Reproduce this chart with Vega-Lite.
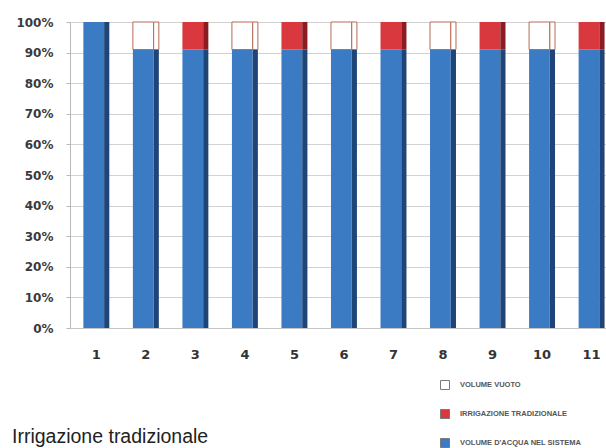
{
  "$schema": "https://vega.github.io/schema/vega-lite/v6.json",
  "width": 536,
  "height": 306,
  "autosize": {"type": "none"},
  "padding": {"left": 70, "top": 22, "right": 0, "bottom": 120},
  "background": "white",
  "config": {"view": {"stroke": null}, "font": "Liberation Sans"},
  "title": {
    "text": "Irrigazione tradizionale",
    "orient": "bottom",
    "anchor": "start",
    "frame": "group",
    "dx": -58,
    "offset": -7,
    "baseline": "alphabetic",
    "font": "Liberation Sans",
    "fontSize": 19.5,
    "fontWeight": "normal",
    "color": "#222222"
  },
  "data": {
    "values": [
      {"periodo": 1, "serie": "VOLUME D'ACQUA NEL SISTEMA", "strato": "base", "percentuale": 100},
      {"periodo": 2, "serie": "VOLUME D'ACQUA NEL SISTEMA", "strato": "base", "percentuale": 91},
      {"periodo": 2, "serie": "VOLUME VUOTO", "strato": "cima", "percentuale": 9},
      {"periodo": 3, "serie": "VOLUME D'ACQUA NEL SISTEMA", "strato": "base", "percentuale": 91},
      {"periodo": 3, "serie": "IRRIGAZIONE TRADIZIONALE", "strato": "cima", "percentuale": 9},
      {"periodo": 4, "serie": "VOLUME D'ACQUA NEL SISTEMA", "strato": "base", "percentuale": 91},
      {"periodo": 4, "serie": "VOLUME VUOTO", "strato": "cima", "percentuale": 9},
      {"periodo": 5, "serie": "VOLUME D'ACQUA NEL SISTEMA", "strato": "base", "percentuale": 91},
      {"periodo": 5, "serie": "IRRIGAZIONE TRADIZIONALE", "strato": "cima", "percentuale": 9},
      {"periodo": 6, "serie": "VOLUME D'ACQUA NEL SISTEMA", "strato": "base", "percentuale": 91},
      {"periodo": 6, "serie": "VOLUME VUOTO", "strato": "cima", "percentuale": 9},
      {"periodo": 7, "serie": "VOLUME D'ACQUA NEL SISTEMA", "strato": "base", "percentuale": 91},
      {"periodo": 7, "serie": "IRRIGAZIONE TRADIZIONALE", "strato": "cima", "percentuale": 9},
      {"periodo": 8, "serie": "VOLUME D'ACQUA NEL SISTEMA", "strato": "base", "percentuale": 91},
      {"periodo": 8, "serie": "VOLUME VUOTO", "strato": "cima", "percentuale": 9},
      {"periodo": 9, "serie": "VOLUME D'ACQUA NEL SISTEMA", "strato": "base", "percentuale": 91},
      {"periodo": 9, "serie": "IRRIGAZIONE TRADIZIONALE", "strato": "cima", "percentuale": 9},
      {"periodo": 10, "serie": "VOLUME D'ACQUA NEL SISTEMA", "strato": "base", "percentuale": 91},
      {"periodo": 10, "serie": "VOLUME VUOTO", "strato": "cima", "percentuale": 9},
      {"periodo": 11, "serie": "VOLUME D'ACQUA NEL SISTEMA", "strato": "base", "percentuale": 91},
      {"periodo": 11, "serie": "IRRIGAZIONE TRADIZIONALE", "strato": "cima", "percentuale": 9}
    ]
  },
  "encoding": {
    "x": {
      "field": "periodo",
      "type": "ordinal",
      "scale": {"paddingInner": 0.477, "paddingOuter": 0.15, "align": 0.9},
      "axis": {
        "title": null,
        "labelAngle": 0,
        "ticks": false,
        "domain": true,
        "domainColor": "#c4c4c4",
        "labelFont": "DejaVu Sans",
        "labelFontWeight": "bold",
        "labelFontSize": 13,
        "labelColor": "#333333",
        "labelPadding": 20
      }
    },
    "y": {
      "field": "percentuale",
      "type": "quantitative",
      "stack": "zero",
      "scale": {"domain": [0, 100], "nice": false},
      "axis": {
        "title": null,
        "values": [0, 10, 20, 30, 40, 50, 60, 70, 80, 90, 100],
        "labelExpr": "datum.value + '%'",
        "grid": true,
        "gridColor": "#d2d2d2",
        "domainColor": "#b8b8b8",
        "tickColor": "#b8b8b8",
        "tickSize": 4,
        "labelFont": "DejaVu Sans",
        "labelFontWeight": "bold",
        "labelFontSize": 12,
        "labelColor": "#3a3a3a",
        "labelPadding": 13
      }
    },
    "order": {"field": "strato"}
  },
  "layer": [
    {
      "mark": {"type": "bar", "width": {"band": 0.8}, "xOffset": -2.6},
      "encoding": {
        "color": {
          "field": "serie",
          "type": "nominal",
          "scale": {
            "domain": ["VOLUME VUOTO", "IRRIGAZIONE TRADIZIONALE", "VOLUME D'ACQUA NEL SISTEMA"],
            "range": ["#ffffff", "#d8383e", "#3b7bc4"]
          },
          "legend": {
            "title": null,
            "orient": "none",
            "legendX": 370,
            "legendY": 358,
            "padding": 0,
            "symbolType": "square",
            "symbolSize": 81,
            "symbolStrokeColor": "#7a7a7a",
            "symbolStrokeWidth": 1,
            "labelFont": "Liberation Sans",
            "labelFontWeight": "bold",
            "labelFontSize": 7.5,
            "labelColor": "#555555",
            "labelOffset": 10,
            "rowPadding": 15
          }
        },
        "stroke": {
          "condition": {"test": "datum.serie === 'VOLUME VUOTO'", "value": "#b56a55"},
          "value": null
        }
      }
    },
    {
      "mark": {"type": "bar", "width": {"band": 0.2}, "xOffset": 10.4},
      "encoding": {
        "color": {
          "field": "serie",
          "type": "nominal",
          "scale": {
            "domain": ["VOLUME VUOTO", "IRRIGAZIONE TRADIZIONALE", "VOLUME D'ACQUA NEL SISTEMA"],
            "range": ["#ffffff", "#8c1c22", "#1e4478"]
          },
          "legend": null
        },
        "stroke": {
          "condition": {"test": "datum.serie === 'VOLUME VUOTO'", "value": "#b56a55"},
          "value": null
        }
      }
    }
  ],
  "resolve": {"scale": {"color": "independent"}}
}
